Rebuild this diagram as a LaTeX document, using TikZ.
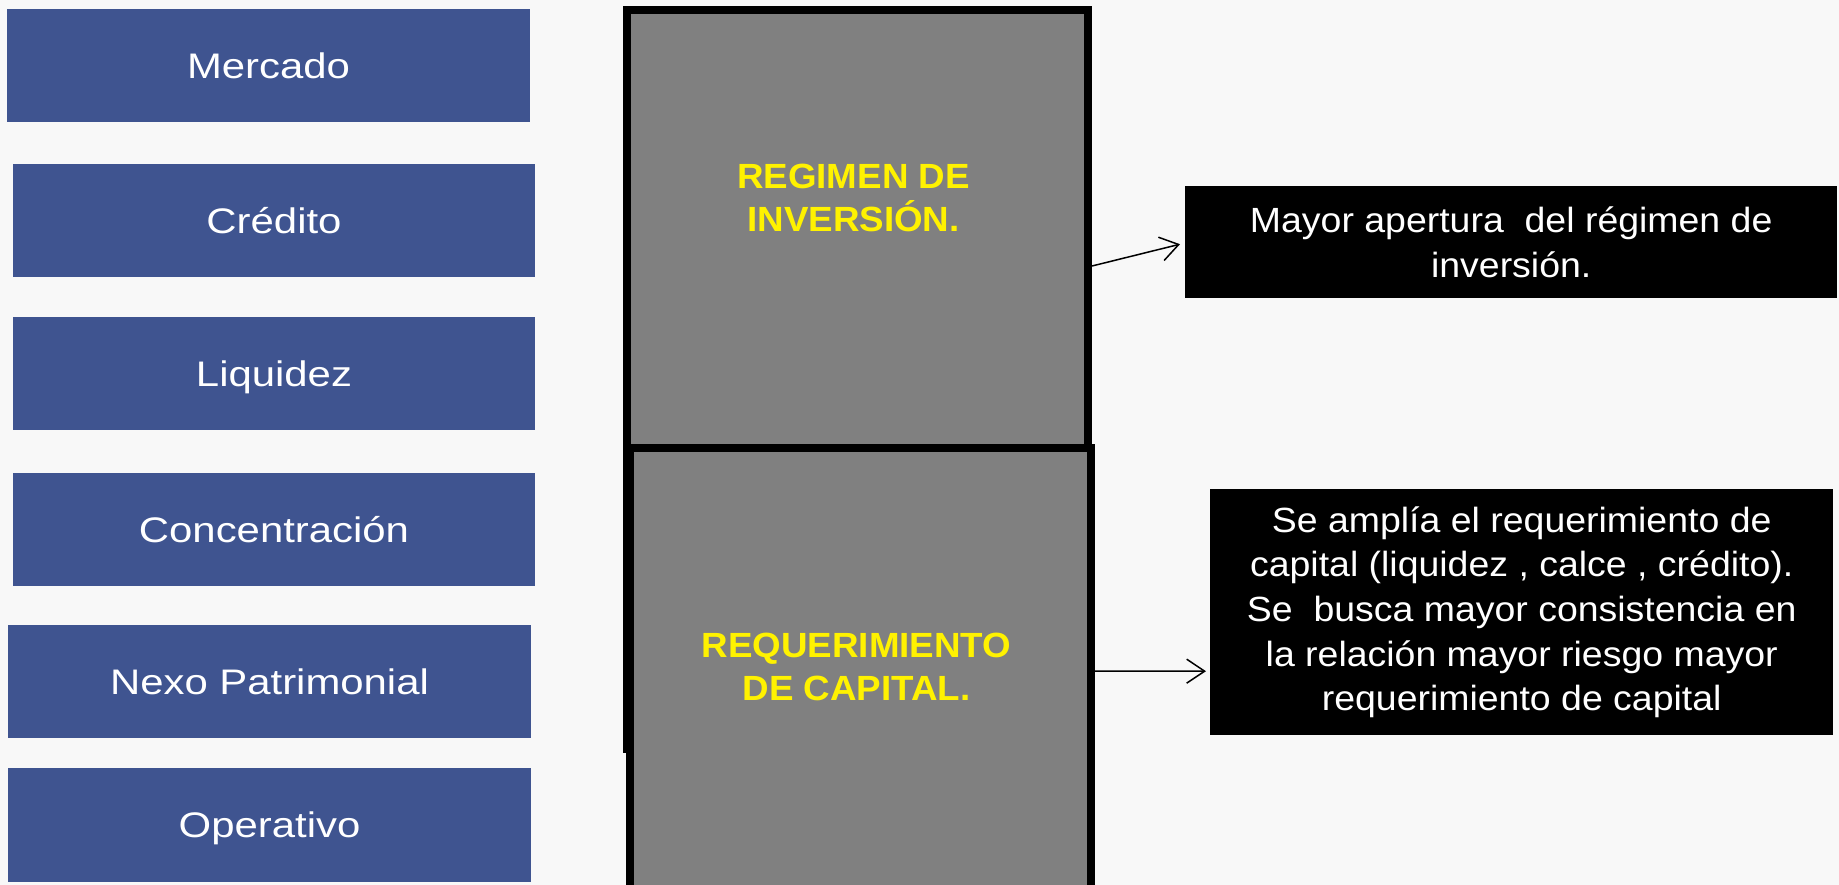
\documentclass[tikz,border=0pt]{standalone}
\usepackage{fontspec}
\setmainfont{Liberation Sans}
\newfontfamily\bluefont{Liberation Sans}[FakeStretch=1.18]
\newfontfamily\whitefont{Liberation Sans}[FakeStretch=1.07]
\newfontfamily\yellowfont{Liberation Sans}[FakeStretch=1.05]
\usetikzlibrary{arrows.meta}
\definecolor{bgcol}{RGB}{248,248,248}
\definecolor{boxblue}{RGB}{63,84,144}
\definecolor{boxgray}{RGB}{128,128,128}
\begin{document}
\begin{tikzpicture}[x=1bp,y=-1bp,
  bluebox/.style={fill=boxblue, minimum width=523bp, minimum height=113bp, inner sep=0pt, outer sep=0pt,
    text=white, font=\bluefont\fontsize{35.5bp}{44bp}\selectfont, text height=25.5bp, text depth=0bp, anchor=north west},
  graybox/.style={fill=boxgray, draw=black, line width=8bp, inner sep=0pt, anchor=north west},
  yellowtxt/.style={text=yellow, font=\yellowfont\fontsize{35bp}{43.3bp}\selectfont\bfseries, align=center, inner sep=0pt},
  blackbox/.style={fill=black, text=white, font=\whitefont\fontsize{35bp}{44.6bp}\selectfont, align=center, inner sep=0pt, anchor=north west},
  conn/.style={-{Straight Barb[length=18bp,width=24bp]}, line width=1.5bp, black}
]
\path[use as bounding box, fill=bgcol] (0,0) rectangle (1839,885);
\clip (0,0) rectangle (1839,885);

% left column
\node[bluebox] (mercado) at (7,9) {Mercado};
\node[bluebox, minimum width=522bp] (credito) at (13,164) {Crédito};
\node[bluebox, minimum width=522bp] (liquidez) at (13,317) {Liquidez};
\node[bluebox, minimum width=522bp] (concentracion) at (13,473) {Concentración};
\node[bluebox] (nexo) at (8,625) {Nexo Patrimonial};
\node[bluebox, minimum height=114bp] (operativo) at (8,768) {Operativo};

% gray boxes
\node[graybox, minimum width=461bp, minimum height=739bp] (gtop) at (623,6) {};
\node[graybox, minimum width=461.5bp, minimum height=446bp] (gbot) at (625.5,444) {};
\node[yellowtxt] (ttop) at (853.5,198) {REGIMEN DE\\INVERSIÓN.};
\node[yellowtxt] (tbot) at (856.5,667) {REQUERIMIENTO\\DE CAPITAL.};

% black boxes
\node[blackbox, minimum width=652bp, minimum height=112bp] (b1) at (1185,186)
  {Mayor apertura\ \ del régimen de\\inversión.};
\node[blackbox, minimum width=623bp, minimum height=246bp] (b2) at (1210,489)
  {Se amplía el requerimiento de\\capital (liquidez , calce , crédito).\\Se\ \ busca mayor consistencia en\\la relación mayor riesgo mayor\\requerimiento de capital};

% connectors
\draw[conn] ([yshift=113.5bp]gtop.east) -- ([yshift=-2bp,xshift=-5bp]b1.west);
\draw[conn] (gbot.east) -- ([yshift=-59bp,xshift=-4bp]b2.west);
\end{tikzpicture}
\end{document}
